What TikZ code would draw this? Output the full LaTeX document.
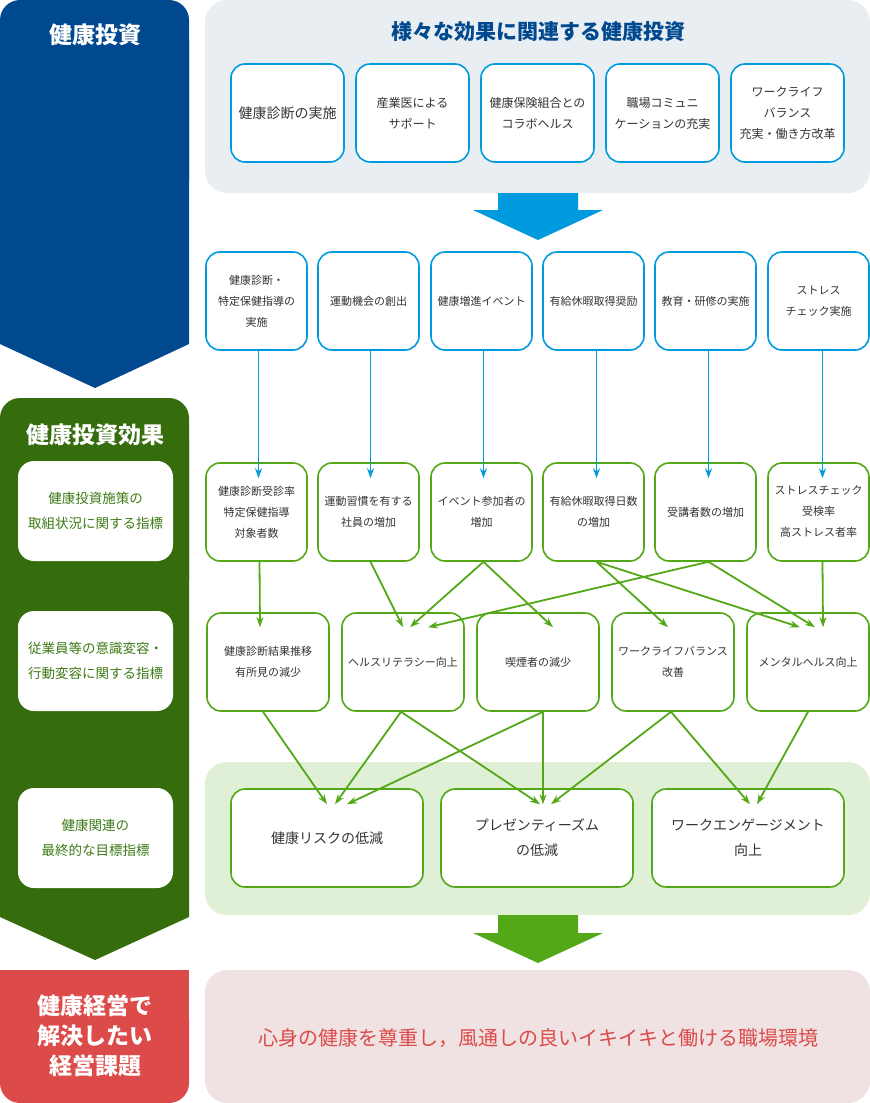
\documentclass[tikz,border=0pt]{standalone}
\usepackage{fontspec}
\setmainfont{Noto Sans CJK JP}
\definecolor{hpnavy}{RGB}{0,73,143}
\definecolor{hpblue}{RGB}{0,155,222}
\definecolor{hpdkgreen}{RGB}{53,108,12}
\definecolor{hpgreen}{RGB}{83,168,24}
\definecolor{hpgrtext}{RGB}{62,122,22}
\definecolor{hpred}{RGB}{220,74,74}
\definecolor{hpgraybg}{RGB}{233,238,243}
\definecolor{hpgreenbg}{RGB}{224,240,214}
\definecolor{hppinkbg}{RGB}{240,226,226}
\definecolor{hptext}{RGB}{51,51,51}
\usepackage{tikz}
\usetikzlibrary{arrows.meta,positioning,calc}

\begin{document}
\begin{tikzpicture}[x=1pt, y=-1pt,
  card/.style={draw, fill=white, line width=1.6pt, rounded corners=14pt, minimum height=98pt, align=center, text=hptext, inner sep=2pt},
  topcard/.style={card, draw=hpblue, minimum width=113pt, font=\fontsize{12}{21}\selectfont},
  measure/.style={card, draw=hpblue, minimum width=101pt, font=\fontsize{11}{21}\selectfont},
  effect/.style={card, draw=hpgreen, minimum width=101pt, font=\fontsize{11}{21}\selectfont},
  change/.style={card, draw=hpgreen, minimum width=122pt, font=\fontsize{11}{21}\selectfont},
  goal/.style={card, draw=hpgreen, minimum width=192pt, font=\fontsize{14}{25}\selectfont},
  sidecard/.style={fill=white, rounded corners=16pt, minimum width=155pt, minimum height=100pt, align=center, text=hpgrtext, font=\fontsize{13.5}{25}\selectfont},
  sidetitle/.style={text=white, font=\fontsize{23}{30}\selectfont\bfseries, align=center},
  barrow/.style={-{Stealth[length=10pt,width=7pt]}, line width=1.8pt, hpblue},
  garrow/.style={-{Stealth[length=10pt,width=7pt]}, line width=1.8pt, hpgreen}]
  \useasboundingbox (0,0) rectangle (870,1103);

  % Left column
  \fill[hpnavy, rounded corners=20pt] (0,0) rectangle (189,200);
  \fill[hpnavy] (0,40) -- (189,40) -- (189,344) -- (95,388) -- (0,344) -- cycle;
  \node[sidetitle] (tInv) at (95,35) {健康投資};

  \fill[hpdkgreen, rounded corners=20pt] (0,398) rectangle (189,600);
  \fill[hpdkgreen] (0,440) -- (189,440) -- (189,917) -- (95,960) -- (0,917) -- cycle;
  \node[sidetitle] (tEff) at (95,435) {健康投資効果};
  \node[sidecard] (s1) at (95.5,511) {健康投資施策の\\取組状況に関する指標};
  \node[sidecard] (s2) at (95.5,661) {従業員等の意識変容・\\行動変容に関する指標};
  \node[sidecard] (s3) at (95.5,838) {健康関連の\\最終的な目標指標};

  \fill[hpred] (0,970) rectangle (189,1060);
  \fill[hpred, rounded corners=20pt] (0,1000) rectangle (189,1103);
  \node[sidetitle] (tMgmt) at (95,1036) {健康経営で\\解決したい\\経営課題};

  % Panels
  \fill[hpgraybg, rounded corners=22pt] (205,0) rectangle (870,193);
  \fill[hpgreenbg, rounded corners=22pt] (205,762) rectangle (870,915);
  \fill[hppinkbg, rounded corners=22pt] (205,970) rectangle (870,1103);

  % Top panel
  \node[text=hpnavy, font=\fontsize{21}{24}\selectfont\bfseries] (tTop) at (538,32) {様々な効果に関連する健康投資};
  \node[topcard, font=\fontsize{14}{21}\selectfont] (t1) at (287.5,113) {健康診断の実施};
  \node[topcard] (t2) at (412.5,113) {産業医による\\サポート};
  \node[topcard] (t3) at (537.5,113) {健康保険組合との\\コラボヘルス};
  \node[topcard] (t4) at (662.5,113) {職場コミュニ\\ケーションの充実};
  \node[topcard] (t5) at (787.5,113) {ワークライフ\\バランス\\充実・働き方改革};

  % Big arrows
  \fill[hpblue] (498,193) -- (578,193) -- (578,210) -- (603,210) -- (538,240) -- (473,210) -- (498,210) -- cycle;
  \fill[hpgreen] (498,915) -- (578,915) -- (578,933) -- (603,933) -- (538,963) -- (473,933) -- (498,933) -- cycle;

  % Measures
  \node[measure] (m1) at (256.5,301) {健康診断・\\特定保健指導の\\実施};
  \node[measure] (m2) at (368.5,301) {運動機会の創出};
  \node[measure] (m3) at (481.5,301) {健康増進イベント};
  \node[measure] (m4) at (593.5,301) {有給休暇取得奨励};
  \node[measure] (m5) at (705.5,301) {教育・研修の実施};
  \node[measure] (m6) at (818.5,301) {ストレス\\チェック実施};

  % Indicators
  \node[effect] (e1) at (256.5,512) {健康診断受診率\\特定保健指導\\対象者数};
  \node[effect] (e2) at (368.5,512) {運動習慣を有する\\社員の増加};
  \node[effect] (e3) at (481.5,512) {イベント参加者の\\増加};
  \node[effect] (e4) at (593.5,512) {有給休暇取得日数\\の増加};
  \node[effect] (e5) at (705.5,512) {受講者数の増加};
  \node[effect] (e6) at (818.5,512) {ストレスチェック\\受検率\\高ストレス者率};

  \draw[barrow] ([xshift=2]m1.south) -- ([xshift=2,yshift=-16]e1.north);
  \draw[barrow] ([xshift=2]m2.south) -- ([xshift=2,yshift=-16]e2.north);
  \draw[barrow] ([xshift=2]m3.south) -- ([xshift=2,yshift=-16]e3.north);
  \draw[barrow] ([xshift=3]m4.south) -- ([xshift=3,yshift=-16]e4.north);
  \draw[barrow] ([xshift=3]m5.south) -- ([xshift=3,yshift=-16]e5.north);
  \draw[barrow] ([xshift=4]m6.south) -- ([xshift=4,yshift=-16]e6.north);

  % Awareness and behaviour
  \node[change] (c1) at (268,662) {健康診断結果推移\\有所見の減少};
  \node[change] (c2) at (403,662) {ヘルスリテラシー向上};
  \node[change] (c3) at (538,662) {喫煙者の減少};
  \node[change] (c4) at (673,662) {ワークライフバランス\\改善};
  \node[change] (c5) at (808,662) {メンタルヘルス向上};

  \draw[garrow] ([xshift=3]e1.south) -- ([xshift=-8,yshift=-15]c1.north);
  \draw[garrow] ([xshift=2]e2.south) -- ([yshift=-15]c2.north);
  \draw[garrow] ([xshift=2]e3.south) -- ([xshift=7,yshift=-15]c2.north);
  \draw[garrow] ([xshift=2]e3.south) -- ([xshift=15,yshift=-15]c3.north);
  \draw[garrow] ([xshift=3]e4.south) -- ([xshift=-5,yshift=-15]c4.north);
  \draw[garrow] ([xshift=3]e4.south) -- ([xshift=-8,yshift=-15]c5.north);
  \draw[garrow] ([xshift=3]e5.south) -- ([xshift=25,yshift=-15]c2.north);
  \draw[garrow] ([xshift=3]e5.south) -- ([xshift=7,yshift=-15]c5.north);
  \draw[garrow] ([xshift=4]e6.south) -- ([xshift=15,yshift=-15]c5.north);

  % Final goals
  \node[goal] (g1) at (327,838) {健康リスクの低減};
  \node[goal] (g2) at (537,838) {プレゼンティーズム\\の低減};
  \node[goal] (g3) at (748,838) {ワークエンゲージメント\\向上};

  \draw[garrow] ([xshift=-5]c1.south) -- ([yshift=-16]g1.north);
  \draw[garrow] ([xshift=-2]c2.south) -- ([xshift=8,yshift=-16]g1.north);
  \draw[garrow] ([xshift=-2]c2.south) -- ([xshift=3,yshift=-16]g2.north);
  \draw[garrow] ([xshift=5]c3.south) -- ([xshift=20,yshift=-16]g1.north);
  \draw[garrow] ([xshift=5]c3.south) -- ([xshift=6,yshift=-16]g2.north);
  \draw[garrow] ([xshift=-2]c4.south) -- ([xshift=14,yshift=-16]g2.north);
  \draw[garrow] ([xshift=-2]c4.south) -- ([xshift=2,yshift=-16]g3.north);
  \draw[garrow] (c5.south) -- ([xshift=9,yshift=-16]g3.north);

  % Management goal
  \node[text=hpred, font=\fontsize{20}{24}\selectfont] (vision) at (538,1038) {心身の健康を尊重し，風通しの良いイキイキと働ける職場環境};
\end{tikzpicture}
\end{document}
